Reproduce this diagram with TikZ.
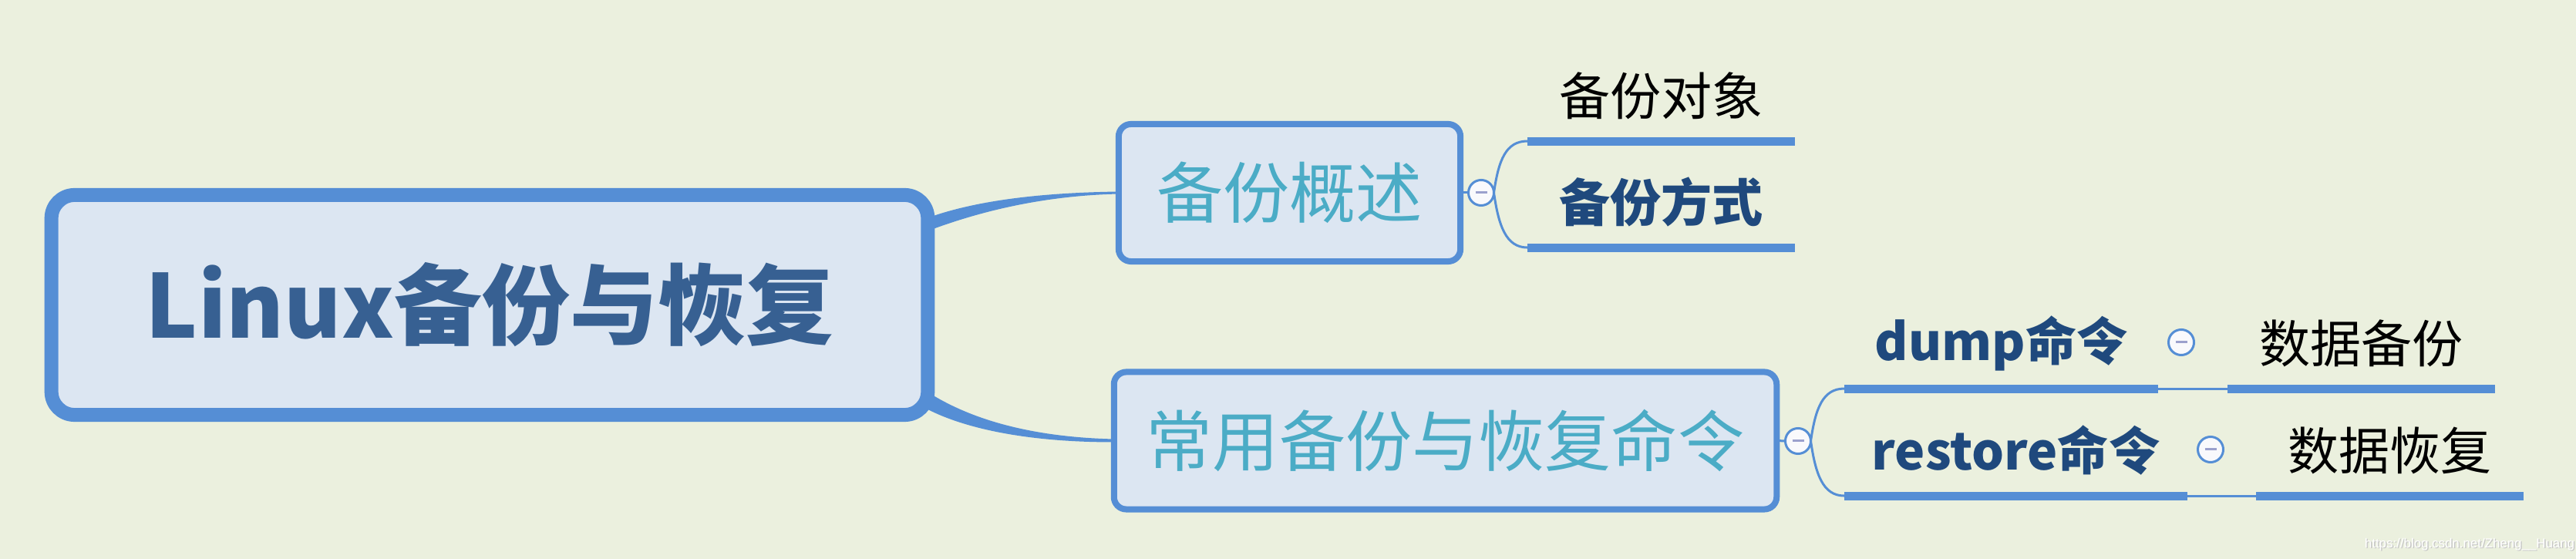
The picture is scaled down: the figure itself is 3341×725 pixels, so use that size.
\documentclass[tikz,border=0pt]{standalone}
\usepackage{fontspec}
\setmainfont{Noto Sans CJK SC}
\newfontfamily\urlfont{Liberation Sans}
\usetikzlibrary{calc}
\definecolor{paper}{RGB}{235,240,222}
\definecolor{mapline}{RGB}{85,142,213}
\definecolor{boxfill}{RGB}{220,230,242}
\definecolor{roottext}{RGB}{55,96,146}
\definecolor{subtext}{RGB}{75,172,198}
\definecolor{leafbold}{RGB}{31,73,125}
\definecolor{foldfill}{RGB}{249,249,252}
\definecolor{foldmark}{RGB}{155,160,205}

\begin{document}
\begin{tikzpicture}[
  x=0.01cm, y=-0.01cm,
  root/.style={draw=mapline, fill=boxfill, line width=0.18cm, rounded corners=0.3cm, inner sep=0pt, outer sep=0pt, minimum width=11.36cm, minimum height=2.85cm, text=roottext, font=\fontsize{32.4pt}{36pt}\selectfont\bfseries},
  sub/.style={draw=mapline, fill=boxfill, line width=0.08cm, rounded corners=0.16cm, inner sep=0pt, outer sep=0pt, minimum height=1.78cm, minimum width=#1, text=subtext, font=\fontsize{24.5pt}{28pt}\selectfont},
  leaf/.style={inner sep=0pt, outer sep=0pt, minimum height=1.18cm, minimum width=#1, font=\fontsize{18.8pt}{22pt}\selectfont},
  leaf/.default=3.47cm,
  key/.style={leaf=#1, text=leafbold, font=\fontsize{18.8pt}{22pt}\selectfont\bfseries},
  key/.default=3.47cm,
  fold/.style={circle, draw=mapline, fill=foldfill, line width=0.03cm, minimum size=0.33cm, inner sep=0pt, outer sep=0pt,
    path picture={\draw[foldmark, line width=0.03cm] ([xshift=-0.075cm]path picture bounding box.center) -- ([xshift=0.075cm]path picture bounding box.center);}},
  uline/.style={mapline, line width=0.11cm},
  link/.style={mapline, line width=0.03cm},
  url/.style={inner sep=0pt, font=\urlfont\fontsize{4.8pt}{6pt}\selectfont},
]
\fill[paper] (0,0) rectangle (3341,725);
\useasboundingbox (0,0) rectangle (3341,725);

\node[root] (root) at (635,395.5) {Linux备份与恢复};
\node[sub=4.43cm] (ovw) at (1672.5,250) {备份概述};
\node[sub=8.59cm] (cmd) at (1874.5,571.5) {常用备份与恢复命令};

\node[leaf] (obj) at (2154.5,124) {备份对象};
\node[key] (way) at (2154.5,262) {备份方式};
\node[key=4.07cm] (dump) at (2595.5,445) {dump命令};
\node[leaf] (bak) at (3062.5,445) {数据备份};
\node[key=4.45cm] (rst) at (2614.5,584) {restore命令};
\node[leaf] (rec) at (3099.5,584) {数据恢复};

\fill[mapline] ($(root.east)+(0,-113)$) .. controls ($(root.east)+(57,-133.5)$) and ($(ovw.west)+(-111,0)$) .. ($(ovw.west)+(0,-1.5)$)
  -- ($(ovw.west)+(0,1.5)$) .. controls ($(ovw.west)+(-111,4)$) and ($(root.east)+(52,-115.5)$) .. ($(root.east)+(0,-96)$) -- cycle;
\fill[mapline] ($(root.east)+(0,113)$) .. controls ($(root.east)+(57,149.5)$) and ($(cmd.west)+(-105,-4.5)$) .. ($(cmd.west)+(0,-2)$)
  -- ($(cmd.west)+(0,2)$) .. controls ($(cmd.west)+(-115,2)$) and ($(root.east)+(47,159.5)$) .. ($(root.east)+(0,135.5)$) -- cycle;

\foreach \n in {obj,way,dump,bak,rst,rec} \draw[uline] (\n.south west) -- (\n.south east);
\draw[link] (dump.south east) -- (bak.south west);
\draw[link] (rst.south east) -- (rec.south west);

\node[fold] (f1) at (1921,250) {};
\node[fold] (f2) at (2332,572) {};
\node[fold] (f3) at (2829,444) {};
\node[fold] (f4) at (2867,583) {};

\draw[link] (ovw.east) -- (f1.west);
\draw[link] (cmd.east) -- (f2.west);
\draw[link] (f1.east) .. controls +(6,-42) and +(-28,0) .. (obj.south west);
\draw[link] (f1.east) .. controls +(6,42) and +(-28,0) .. (way.south west);
\draw[link] (f2.east) .. controls +(6,-42) and +(-28,0) .. (dump.south west);
\draw[link] (f2.east) .. controls +(6,42) and +(-28,0) .. (rst.south west);

\node[url, text=black!22] (wmsh) at (3204.5,707.5) {https://blog.csdn.net/Zheng\_\_Huang};
\node[url, text=white] (wm) at (3203,706) {https://blog.csdn.net/Zheng\_\_Huang};
\end{tikzpicture}
\end{document}
